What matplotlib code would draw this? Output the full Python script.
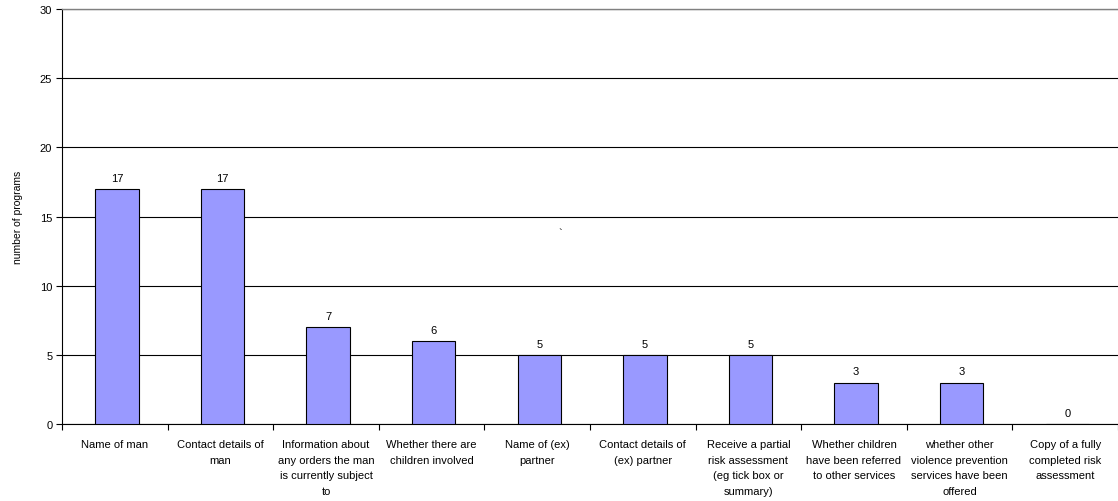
import matplotlib
matplotlib.use("Agg")
import matplotlib.pyplot as plt
import numpy as np

categories = [
    "Name of man",
    "Contact details of\nman",
    "Information about\nany orders the man\nis currently subject\nto",
    "Whether there are\nchildren involved",
    "Name of (ex)\npartner",
    "Contact details of\n(ex) partner",
    "Receive a partial\nrisk assessment\n(eg tick box or\nsummary)",
    "Whether children\nhave been referred\nto other services",
    "whether other\nviolence prevention\nservices have been\noffered",
    "Copy of a fully\ncompleted risk\nassessment",
]
values = [17, 17, 7, 6, 5, 5, 5, 3, 3, 0]
y_ticks = [0, 5, 10, 15, 20, 25, 30]

plt.rcParams['font.family'] = ['Liberation Sans', 'DejaVu Sans']

fig = plt.figure(figsize=(11.18, 5.02), dpi=100)
ax = fig.add_axes([62/1118, 77/502, 1 - 62/1118, 415/502])

x = np.arange(len(categories))
bars = ax.bar(x + 0.02, values, width=0.41, color="#9999FF", edgecolor="black",
              linewidth=0.8, zorder=3)
for xi, v in zip(x, values):
    ax.annotate(str(v), (xi + 0.02, v), xytext=(0, 4.5), textcoords="offset points",
                ha="center", va="bottom", fontsize=8)

ax.set_xlim(-0.5, len(categories) - 0.5)
ax.set_ylim(0, 30)
ax.set_yticks(y_ticks)
ax.set_yticklabels([str(t) for t in y_ticks], fontsize=8)
ax.yaxis.grid(True, color="black", linewidth=0.8, zorder=0)
ax.set_axisbelow(True)

ax.set_xticks(x)
ax.set_xticklabels(categories, fontsize=8, linespacing=1.68, va="top")
ax.tick_params(axis="x", which="major", length=0, pad=11)
ax.set_xticks(np.arange(-0.5, len(categories), 1.0), minor=True)
ax.tick_params(axis="x", which="minor", length=4, width=0.8, direction="out")
ax.tick_params(axis="y", length=4, width=0.8, direction="out", pad=3)

ax.spines["right"].set_visible(False)
ax.spines["top"].set_color("#808080")
ax.spines["top"].set_linewidth(1.0)
ax.spines["left"].set_linewidth(0.8)
ax.spines["bottom"].set_linewidth(0.8)

ax.set_ylabel("number of programs", fontsize=7.5, labelpad=12)

ax.text(0.4716, 0.46, "`", transform=ax.transAxes, fontsize=8,
        ha="center", va="center")

fig.savefig("out.png", dpi=100)
